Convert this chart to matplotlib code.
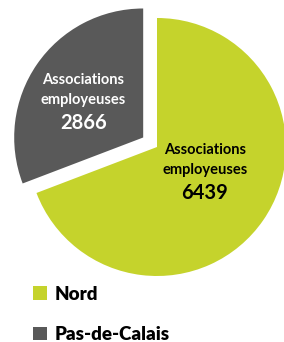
import matplotlib
matplotlib.use('Agg')
import matplotlib.pyplot as plt

plt.rcParams['font.family'] = ['Lato', 'DejaVu Sans']

# data
regions = ['Nord', 'Pas-de-Calais']
values = [6439, 2866]
colors = ['#C5D32C', '#595959']
label_colors = ['black', 'white']

fig = plt.figure(figsize=(2.84, 3.42), dpi=100)
ax = fig.add_axes([0, 0, 1, 1])

wedges, _ = ax.pie(values, colors=colors, startangle=90, counterclock=False,
                   explode=[0, 0.13], radius=1.0)

# labels inside the slices
label_pos = [(0.37, -0.02), (-0.57, 0.52)]
for (x, y), v, c in zip(label_pos, values, label_colors):
    ax.text(x, y, 'Associations', ha='center', va='center', fontsize=10.5,
            fontweight='bold', color=c)
    ax.text(x, y - 0.155, 'employeuses', ha='center', va='center', fontsize=10.5,
            fontweight='bold', color=c)
    ax.text(x, y - 0.335, str(v), ha='center', va='center', fontsize=14.5,
            fontweight='bold', color=c)

ax.set_xlim(-157 / 129, 127 / 129)
ax.set_ylim(-195 / 129, 147 / 129)
ax.set_aspect('auto')
ax.axis('off')

leg = ax.legend(wedges, regions, loc='upper left', bbox_to_anchor=(0.116, 0.165),
                frameon=False, handlelength=0.75, handleheight=0.75,
                handletextpad=0.4, labelspacing=1.25, borderpad=0,
                borderaxespad=0, prop={'weight': 'heavy', 'size': 13.5})

fig.savefig('out.png', dpi=100)
